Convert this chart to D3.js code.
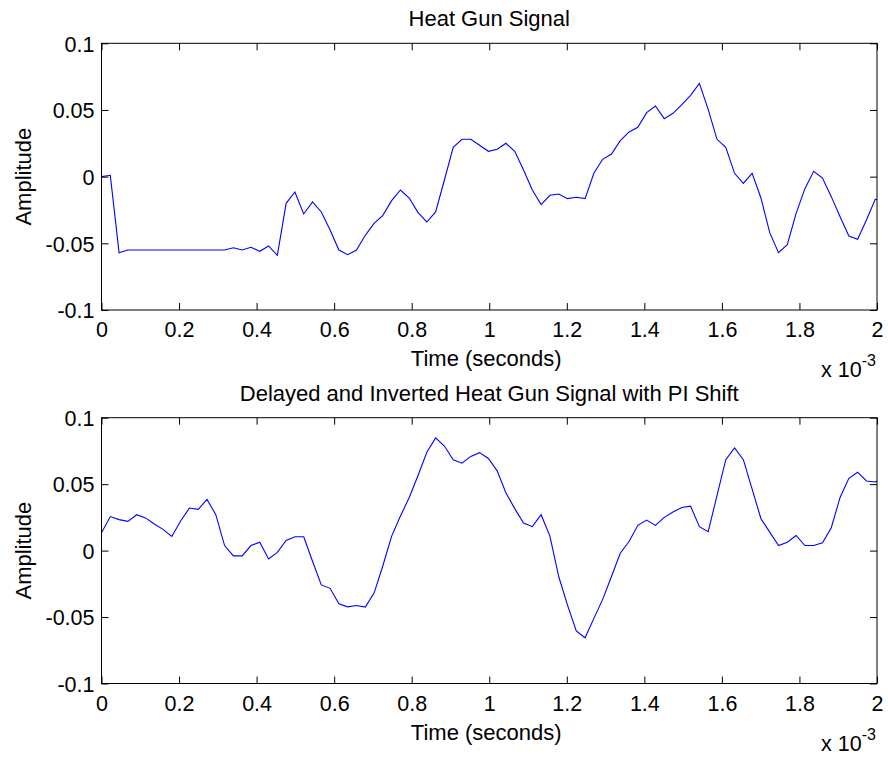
<!DOCTYPE html>
<html>
<head>
<meta charset="utf-8">
<script src="https://cdn.jsdelivr.net/npm/d3@7"></script>
<style>
body { margin: 0; background: white; }
text { font-family: "Liberation Sans", Arial, Helvetica, sans-serif; fill: #000; }
</style>
</head>
<body>
<svg></svg>
<script>
var w = 888
var h = 757
var fontSize = 21.5
var labelSize = 22

// samples (44.1 kHz), amplitude
var sampleRate = 44100

var heatGun = [0, 0.001, -0.057, -0.055, -0.055, -0.055, -0.055, -0.055, -0.055, -0.055,
	-0.055, -0.055, -0.055, -0.055, -0.055, -0.0533, -0.055, -0.053, -0.056, -0.052,
	-0.059, -0.02, -0.0115, -0.028, -0.019, -0.0265, -0.04, -0.055, -0.0585, -0.055,
	-0.044, -0.035, -0.029, -0.018, -0.010, -0.016, -0.027, -0.034, -0.0265, -0.0025,
	0.022, 0.028, 0.028, 0.0235, 0.019, 0.0205, 0.025, 0.019, 0.005, -0.010,
	-0.021, -0.014, -0.013, -0.0165, -0.0155, -0.0165, 0.0025, 0.013, 0.017, 0.027,
	0.0335, 0.037, 0.048, 0.053, 0.0435, 0.0475, 0.054, 0.061, 0.070, 0.0505,
	0.028, 0.022, 0.0025, -0.005, 0.0025, -0.016, -0.042, -0.057, -0.051, -0.0275,
	-0.009, 0.004, -0.001, -0.015, -0.03, -0.0445, -0.047, -0.0325, -0.017, -0.018]

var delayed = [0.0134, 0.0256, 0.0233, 0.022, 0.027, 0.0246, 0.020, 0.016, 0.0106, 0.0223,
	0.032, 0.031, 0.0385, 0.027, 0.0038, -0.004, -0.004, 0.0038, 0.0063, -0.0063,
	-0.0013, 0.0076, 0.0104, 0.0104, -0.008, -0.0258, -0.0284, -0.040, -0.0423, -0.0413,
	-0.0425, -0.032, -0.0114, 0.0109, 0.026, 0.040, 0.0565, 0.074, 0.0848, 0.0787,
	0.0684, 0.0658, 0.0709, 0.0737, 0.0693, 0.060, 0.0433, 0.0316, 0.0208, 0.018,
	0.027, 0.0109, -0.0195, -0.041, -0.0605, -0.0656, -0.051, -0.0367, -0.0195, -0.002,
	0.0068, 0.019, 0.023, 0.019, 0.025, 0.029, 0.0324, 0.0334, 0.018, 0.0142,
	0.0413, 0.0684, 0.0772, 0.0684, 0.0463, 0.024, 0.0139, 0.0038, 0.0063, 0.0114,
	0.0038, 0.0038, 0.0058, 0.0172, 0.040, 0.0544, 0.059, 0.0524, 0.0516, 0.055]

var xTicks = [0, 0.2, 0.4, 0.6, 0.8, 1, 1.2, 1.4, 1.6, 1.8, 2]
var yTicks = [-0.1, -0.05, 0, 0.05, 0.1]
var titles = ["Heat Gun Signal", "Delayed and Inverted Heat Gun Signal with PI Shift"]
var xLabel = "Time (seconds)"
var yLabel = "Amplitude"

var svg = d3.select("svg")
	.attr("width", w)
	.attr("height", h)
	.style("background-color", "white")

var left = 101.5
var right = 877
var panels = [{top: 43.3, bottom: 310, data: heatGun, title: titles[0]},
	{top: 417.7, bottom: 683.5, data: delayed, title: titles[1]}]

var x = d3.scaleLinear().domain([0, 2]).range([left, right])

var lineMaker = d3.line()

panels.forEach(function(p, k) {

	var y = d3.scaleLinear().domain([-0.1, 0.1]).range([p.bottom, p.top])
	var g = svg.append("g")

	var clipId = "clip" + k
	svg.append("defs").append("clipPath").attr("id", clipId)
		.append("rect")
		.attr("x", left).attr("y", p.top)
		.attr("width", right - left).attr("height", p.bottom - p.top)

	var pts = p.data.map(function(v, i) {
		return [x(i / sampleRate * 1000), y(v)]
	})

	g.append("path")
		.attr("d", lineMaker(pts))
		.attr("fill", "none")
		.attr("stroke", "#0000ff")
		.attr("stroke-width", 1.1)
		.attr("clip-path", "url(#" + clipId + ")")

	// axes, ticks inward on all sides
	var bottomAxis = d3.axisBottom(x).tickValues(xTicks).tickSizeInner(-7).tickSizeOuter(0)
		.tickFormat(d3.format("~g"))
	var topAxis = d3.axisTop(x).tickValues(xTicks).tickSizeInner(-7).tickSizeOuter(0).tickFormat("")
	var leftAxis = d3.axisLeft(y).tickValues(yTicks).tickSizeInner(-7).tickSizeOuter(0)
		.tickFormat(function(d) { return d3.format("~g")(d).replace("−", "-") }).tickPadding(7)
	var rightAxis = d3.axisRight(y).tickValues(yTicks).tickSizeInner(-7).tickSizeOuter(0).tickFormat("")

	var ab = g.append("g").attr("transform", "translate(0," + p.bottom + ")").call(bottomAxis)
	g.append("g").attr("transform", "translate(0," + p.top + ")").call(topAxis)
	var al = g.append("g").attr("transform", "translate(" + left + ",0)").call(leftAxis)
	g.append("g").attr("transform", "translate(" + right + ",0)").call(rightAxis)

	g.selectAll(".tick line").attr("stroke", "#000")
	g.selectAll(".domain").remove()
	ab.selectAll("text").attr("font-size", fontSize).attr("font-family", null)
		.attr("dy", null).attr("y", 27).attr("dominant-baseline", "auto")
	al.selectAll("text").attr("font-size", fontSize).attr("font-family", null)
		.attr("dy", "0.36em")

	// box
	g.append("rect")
		.attr("x", left).attr("y", p.top)
		.attr("width", right - left).attr("height", p.bottom - p.top)
		.attr("fill", "none").attr("stroke", "#000").attr("stroke-width", 1)

	g.append("text")
		.attr("x", (left + right) / 2)
		.attr("y", p.top - 17)
		.attr("text-anchor", "middle")
		.attr("font-size", labelSize)
		.text(p.title)

	g.append("text")
		.attr("x", (left + right) / 2 - 3)
		.attr("y", p.bottom + 56)
		.attr("text-anchor", "middle")
		.attr("font-size", labelSize)
		.text(xLabel)

	g.append("text")
		.attr("transform", "translate(31," + ((p.top + p.bottom) / 2) + ") rotate(-90)")
		.attr("text-anchor", "middle")
		.attr("font-size", labelSize)
		.text(yLabel)

	var mult = g.append("text")
		.attr("x", 821)
		.attr("y", p.bottom + 67)
		.attr("font-size", fontSize)
	mult.append("tspan").text("x 10")
	mult.append("tspan")
		.attr("font-size", 16)
		.attr("dy", -11)
		.text("-3")
})
</script>
</body>
</html>
